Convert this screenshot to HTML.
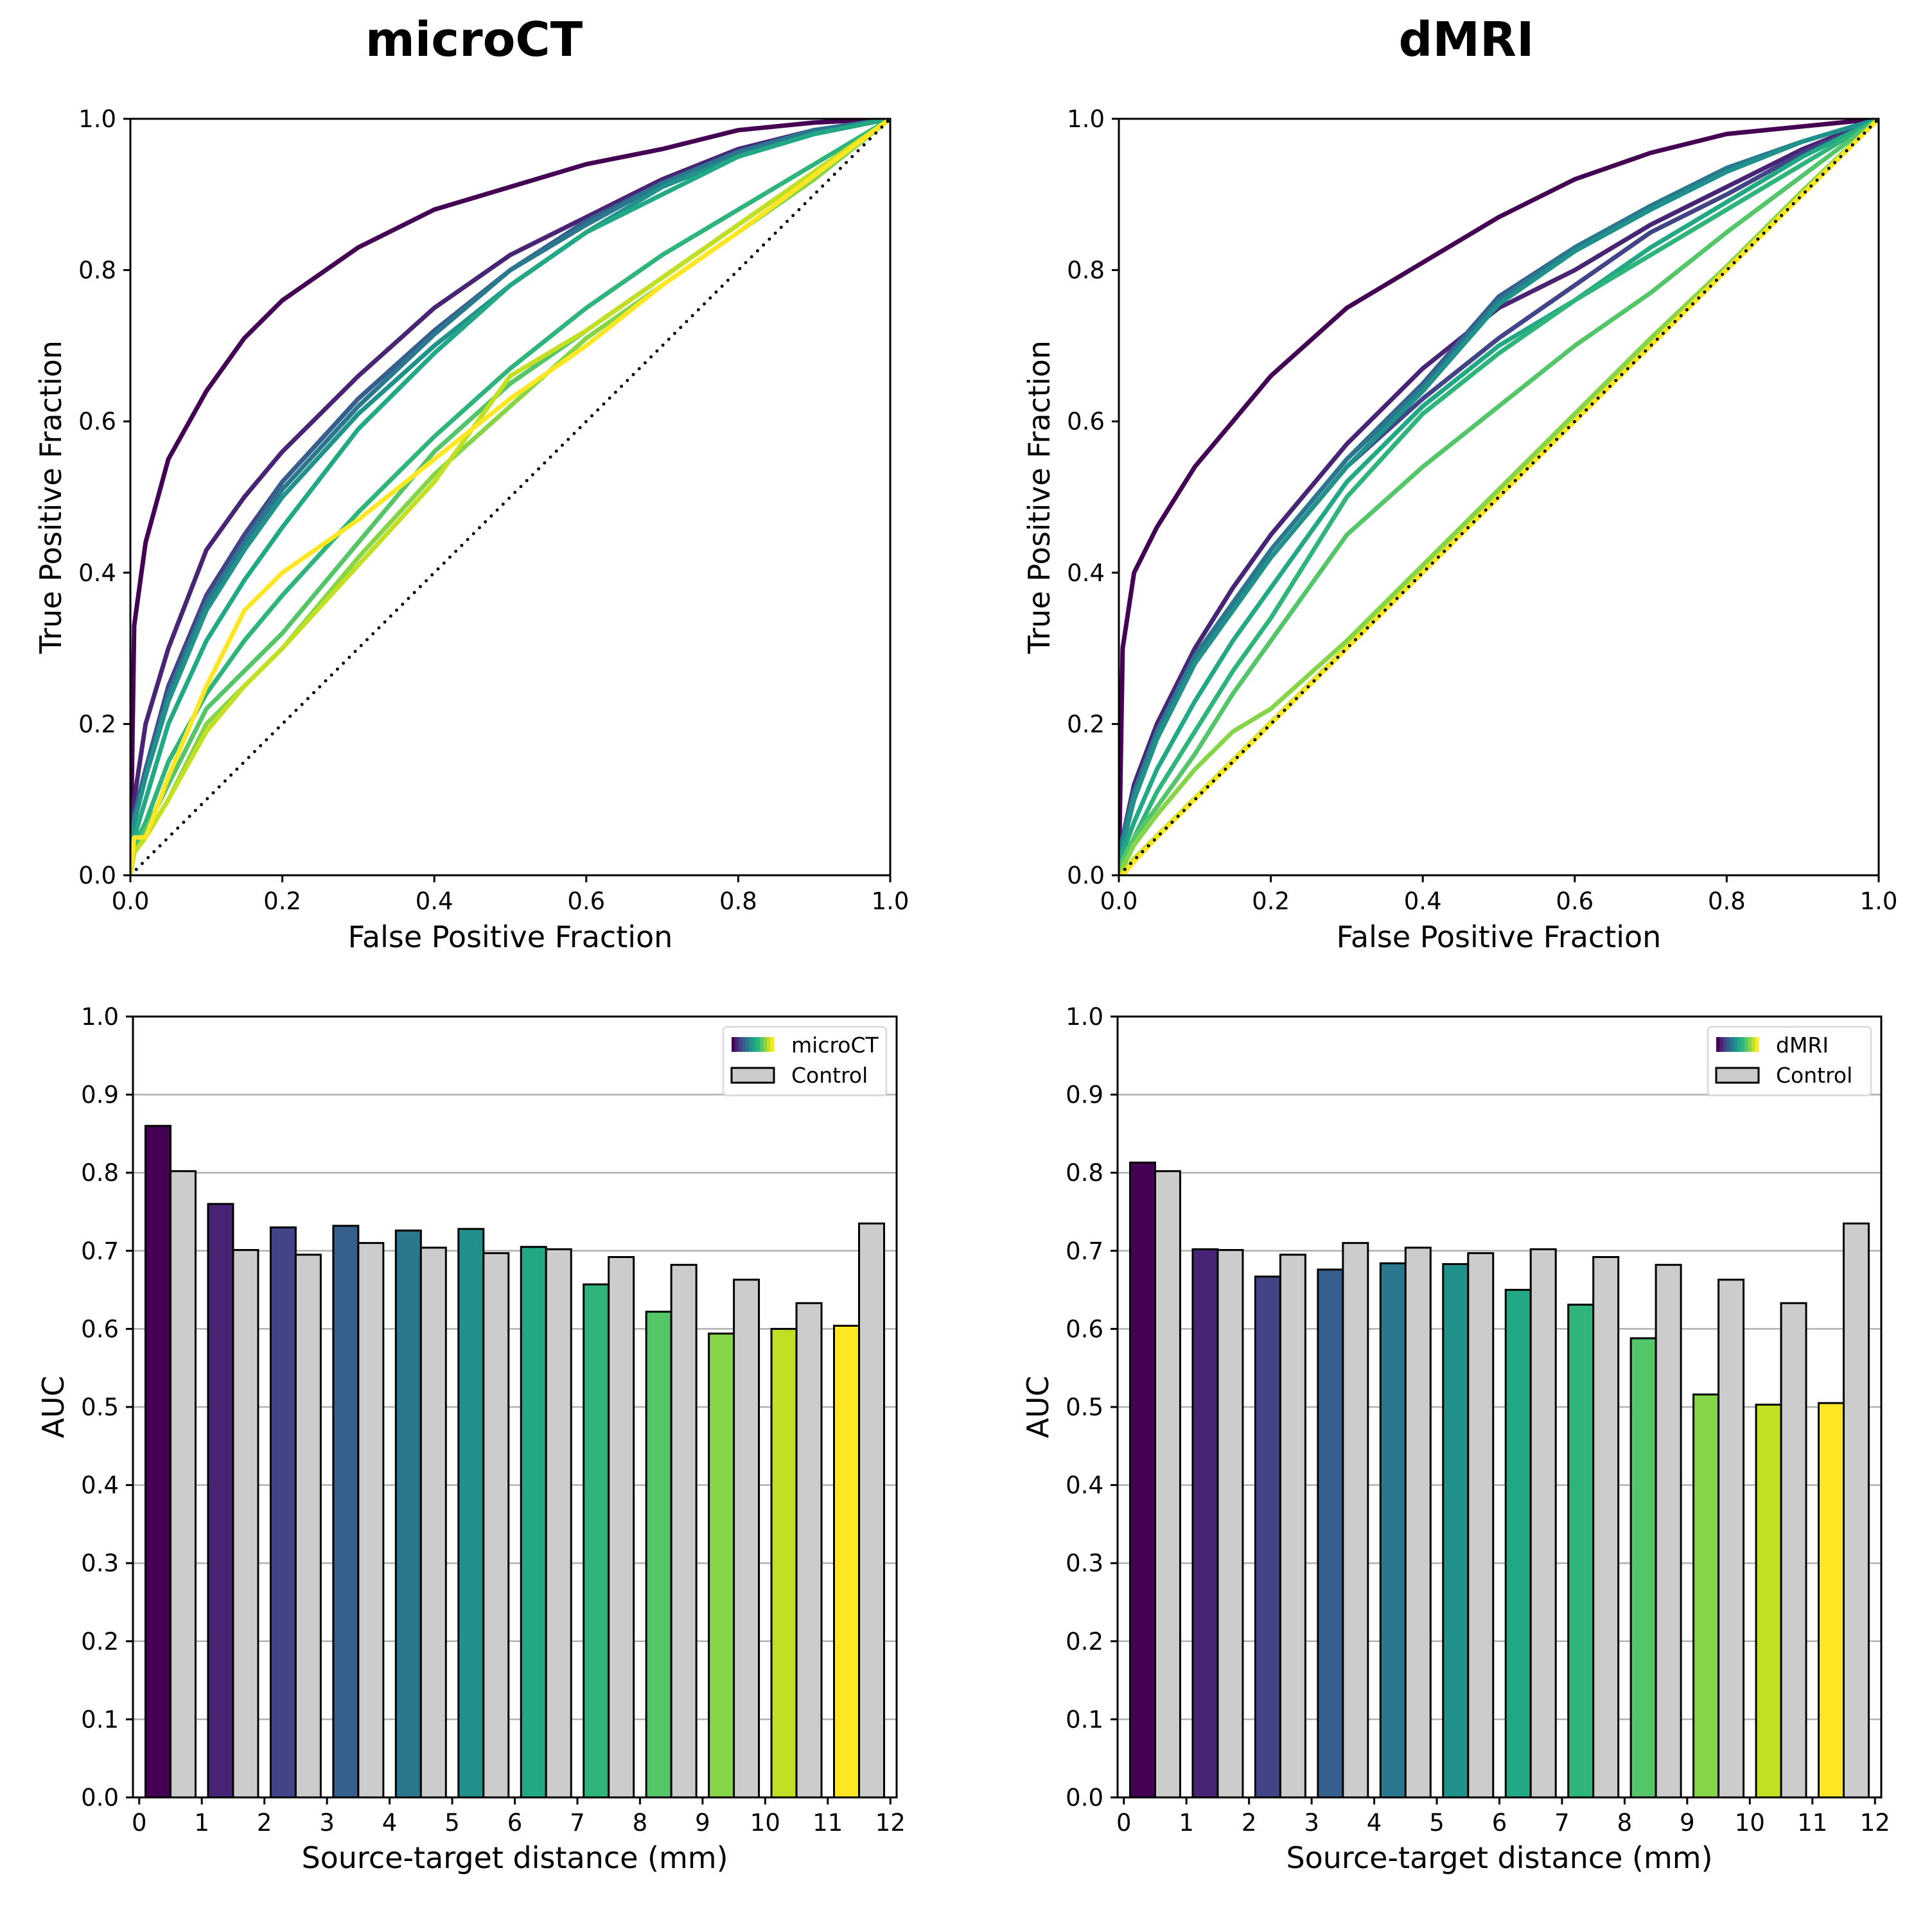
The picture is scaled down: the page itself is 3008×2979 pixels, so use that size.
<!DOCTYPE html>
<html><head><meta charset="utf-8"><style>
html,body{margin:0;padding:0;background:#fff}
svg{display:block;font-family:"DejaVu Sans","Liberation Sans",sans-serif}
</style></head><body>
<svg id="fig" xmlns="http://www.w3.org/2000/svg" width="3008" height="2979" viewBox="0 0 3008 2979">
<rect width="3008" height="2979" fill="#fff"/>
<text x="738" y="87" font-size="74" font-weight="bold" text-anchor="middle">microCT</text>
<text x="2283" y="87" font-size="74" font-weight="bold" text-anchor="middle">dMRI</text>
</svg>
<script>
const fprGrid = [0,0.005,0.02,0.05,0.1,0.15,0.2,0.3,0.4,0.5,0.6,0.7,0.8,0.9,1];
const rocMicroCT = [
 [0,0.33,0.44,0.55,0.64,0.71,0.76,0.83,0.88,0.91,0.94,0.96,0.985,0.995,1],
 [0,0.10,0.20,0.30,0.43,0.50,0.56,0.66,0.75,0.82,0.87,0.92,0.96,0.985,1],
 [0,0.08,0.14,0.25,0.37,0.45,0.52,0.63,0.72,0.80,0.86,0.915,0.955,0.985,1],
 [0,0.08,0.14,0.24,0.36,0.44,0.52,0.63,0.72,0.80,0.865,0.915,0.957,0.985,1],
 [0,0.07,0.13,0.24,0.36,0.44,0.51,0.62,0.715,0.80,0.86,0.915,0.955,0.985,1],
 [0,0.07,0.13,0.23,0.35,0.43,0.50,0.61,0.70,0.78,0.85,0.91,0.95,0.98,1],
 [0,0.05,0.10,0.20,0.31,0.39,0.46,0.59,0.69,0.78,0.85,0.90,0.95,0.98,1],
 [0,0.04,0.07,0.15,0.24,0.31,0.37,0.48,0.58,0.67,0.75,0.82,0.88,0.94,1],
 [0,0.03,0.06,0.12,0.22,0.27,0.32,0.44,0.56,0.65,0.72,0.79,0.86,0.93,1],
 [0,0.03,0.05,0.10,0.20,0.25,0.30,0.42,0.53,0.62,0.71,0.78,0.85,0.92,1],
 [0,0.03,0.05,0.10,0.19,0.25,0.30,0.41,0.52,0.66,0.72,0.79,0.86,0.93,1],
 [0,0.05,0.05,0.13,0.25,0.35,0.40,0.47,0.55,0.63,0.70,0.78,0.85,0.925,1]
];
const rocDMRI = [
 [0,0.30,0.40,0.46,0.54,0.60,0.66,0.75,0.81,0.87,0.92,0.955,0.98,0.99,1],
 [0,0.05,0.12,0.20,0.30,0.38,0.45,0.57,0.67,0.75,0.80,0.86,0.91,0.96,1],
 [0,0.04,0.10,0.18,0.28,0.35,0.42,0.54,0.63,0.71,0.78,0.85,0.90,0.955,1],
 [0,0.05,0.11,0.19,0.29,0.36,0.43,0.55,0.65,0.765,0.83,0.885,0.935,0.97,1],
 [0,0.05,0.11,0.19,0.29,0.36,0.43,0.55,0.645,0.76,0.83,0.885,0.935,0.97,1],
 [0,0.04,0.10,0.18,0.28,0.35,0.42,0.54,0.64,0.755,0.825,0.88,0.93,0.97,1],
 [0,0.03,0.07,0.14,0.23,0.31,0.38,0.52,0.62,0.70,0.76,0.83,0.89,0.95,1],
 [0,0.02,0.05,0.11,0.19,0.27,0.34,0.50,0.61,0.69,0.76,0.82,0.88,0.94,1],
 [0,0.02,0.05,0.09,0.16,0.24,0.31,0.45,0.54,0.62,0.70,0.77,0.85,0.925,1],
 [0,0.01,0.04,0.08,0.14,0.19,0.22,0.31,0.41,0.51,0.61,0.71,0.805,0.905,1],
 [0,0.004,0.022,0.052,0.102,0.152,0.202,0.302,0.402,0.502,0.602,0.702,0.802,0.902,1],
 [0,0.0,0.018,0.05,0.10,0.15,0.20,0.30,0.40,0.50,0.60,0.70,0.80,0.90,1]
];
const distances = [0,1,2,3,4,5,6,7,8,9,10,11];
const aucMicroCT = [0.860,0.760,0.730,0.732,0.726,0.728,0.705,0.657,0.622,0.594,0.600,0.604];
const aucControl = [0.802,0.701,0.695,0.710,0.704,0.697,0.702,0.692,0.682,0.663,0.633,0.735];
const aucDMRI = [0.813,0.702,0.667,0.676,0.684,0.683,0.650,0.631,0.588,0.516,0.503,0.505];
const rocTicks = ["0.0","0.2","0.4","0.6","0.8","1.0"];
const aucTicks = ["0.0","0.1","0.2","0.3","0.4","0.5","0.6","0.7","0.8","0.9","1.0"];
const distTicks = ["0","1","2","3","4","5","6","7","8","9","10","11","12"];
const viridis = ["#440154","#482475","#414487","#355f8d","#2a788e","#21918c","#22a884","#2fb47c","#54c568","#86d549","#c2df23","#fde725"];

const svg = document.getElementById('fig');
const NS = 'http://www.w3.org/2000/svg';
const TF = 37, LF = 46;
function mk(tag, attrs, parent){ const e=document.createElementNS(NS,tag); for(const k in attrs) e.setAttribute(k,attrs[k]); (parent||svg).appendChild(e); return e; }
function txt(s, attrs){ const t=mk('text',attrs); t.textContent=s; return t; }

function rocPanel(L,T,W,H,curves,key){
  const sx=v=>L+v*W, sy=v=>T+H-v*H;
  const g=mk('g',{});
  
  
  const clip=mk('clipPath',{id:'c'+key},g); mk('rect',{x:L,y:T,width:W,height:H},clip);
  const cg=mk('g',{'clip-path':'url(#c'+key+')'},g);
  curves.forEach((c,i)=>{
    const d=c.map((v,j)=>(j?'L':'M')+sx(fprGrid[j]).toFixed(1)+' '+sy(v).toFixed(1)).join(' ');
    const p=mk('path',{d:d,fill:'none',stroke:viridis[i],'stroke-width':7,'stroke-linejoin':'round'},cg);
    
    
  });
  const diag=mk('line',{x1:sx(0),y1:sy(0),x2:sx(1),y2:sy(1),stroke:'#000','stroke-width':5,'stroke-dasharray':'0 13','stroke-linecap':'round'},cg);
  
  
  mk('rect',{x:L,y:T,width:W,height:H,fill:'none',stroke:'#000','stroke-width':3},g);
  rocTicks.forEach(t=>{
    const v=parseFloat(t);
    mk('line',{x1:sx(v),y1:T+H,x2:sx(v),y2:T+H+11,stroke:'#000','stroke-width':3},g);
    mk('line',{x1:L-11,y1:sy(v),x2:L,y2:sy(v),stroke:'#000','stroke-width':3},g);
    const a=txt(t,{x:sx(v),y:T+H+53,'font-size':TF,'text-anchor':'middle'});
    
    
    const b=txt(t,{x:L-22,y:sy(v)+13,'font-size':TF,'text-anchor':'end'});
    
    
  });
  const xl=txt('False Positive Fraction',{x:L+W/2,y:T+H+112,'font-size':LF,'text-anchor':'middle'});
  
  
  const cy=T+H/2;
  const yl=txt('True Positive Fraction',{x:L-108,y:cy,'font-size':LF,'text-anchor':'middle',transform:'rotate(-90 '+(L-108)+' '+cy+')'});
  
  
}

function barPanel(L,T,W,H,vals,ctrl,key,label){
  const xmin=-0.1,xmax=12.1;
  const sx=v=>L+(v-xmin)/(xmax-xmin)*W, sy=v=>T+H-v*H;
  aucTicks.forEach(t=>{
    const v=parseFloat(t);
    const gl=mk('line',{x1:L,y1:sy(v),x2:L+W,y2:sy(v),stroke:'#b0b0b0','stroke-width':2.5});
    
    
  });
  distances.forEach((d,i)=>{
    const b=mk('rect',{x:sx(d+0.1),y:sy(vals[i]),width:sx(d+0.5)-sx(d+0.1),height:sy(0)-sy(vals[i]),fill:viridis[i],stroke:'#000','stroke-width':3});
    
    
    const c=mk('rect',{x:sx(d+0.5),y:sy(ctrl[i]),width:sx(d+0.9)-sx(d+0.5),height:sy(0)-sy(ctrl[i]),fill:'#cccccc',stroke:'#000','stroke-width':3});
    
    
  });
  mk('rect',{x:L,y:T,width:W,height:H,fill:'none',stroke:'#000','stroke-width':3});
  aucTicks.forEach(t=>{
    const v=parseFloat(t);
    mk('line',{x1:L-11,y1:sy(v),x2:L,y2:sy(v),stroke:'#000','stroke-width':3});
    const b=txt(t,{x:L-22,y:sy(v)+13,'font-size':TF,'text-anchor':'end'});
    
    
  });
  distTicks.forEach(t=>{
    const v=parseFloat(t);
    mk('line',{x1:sx(v),y1:T+H,x2:sx(v),y2:T+H+11,stroke:'#000','stroke-width':3});
    const a=txt(t,{x:sx(v),y:T+H+52,'font-size':TF,'text-anchor':'middle'});
    
    
  });
  const xl=txt('Source-target distance (mm)',{x:L+W/2,y:T+H+110,'font-size':LF,'text-anchor':'middle'});
  
  
  const cy=T+H/2;
  const yl=txt('AUC',{x:L-108,y:cy,'font-size':LF,'text-anchor':'middle',transform:'rotate(-90 '+(L-108)+' '+cy+')'});
  
  
  const lx=L+W-270, ly=T+16;
  const lg=mk('g',{});
  
  
  mk('rect',{x:lx,y:ly,width:254,height:107,rx:6,fill:'#fff','fill-opacity':0.85,stroke:'#d9d9d9','stroke-width':2.5},lg);
  for(let i=0;i<12;i++) mk('rect',{x:lx+13+i*66/12,y:ly+16,width:66/12+0.5,height:23,fill:viridis[i]},lg);
  mk('rect',{x:lx+13,y:ly+64,width:66,height:23,fill:'#cccccc',stroke:'#000','stroke-width':3},lg);
  const e1=txt(label,{x:lx+106,y:ly+40,'font-size':33});
  lg.appendChild(e1);
  
  
  const e2=txt('Control',{x:lx+106,y:ly+87,'font-size':33});
  lg.appendChild(e2);
  
  
}

rocPanel(203,185,1183,1178,rocMicroCT,'microct');
rocPanel(1742,185,1183,1178,rocDMRI,'dmri');
barPanel(207,1583,1189,1216,aucMicroCT,aucControl,'microct','microCT');
barPanel(1740,1583,1189,1216,aucDMRI,aucControl,'dmri','dMRI');
</script>
</body></html>
